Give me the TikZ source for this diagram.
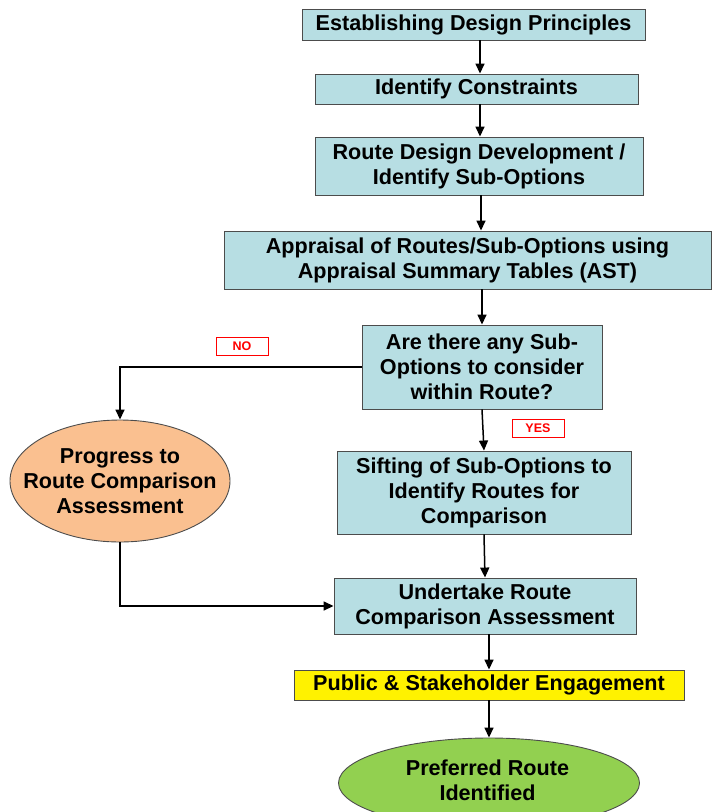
\documentclass[tikz,border=0pt]{standalone}
\usepackage{fontspec}
\setmainfont{Liberation Sans}
\usepackage{tikz}
\usetikzlibrary{shapes.geometric}
\usetikzlibrary{arrows.meta}
\usetikzlibrary{positioning}

\definecolor{boxblue}{RGB}{183,222,227}
\definecolor{peach}{RGB}{250,192,144}
\definecolor{leaf}{RGB}{146,208,80}

\tikzset{
  stage/.style={draw=black!70, line width=0.9pt, fill=boxblue, align=center,
    inner sep=0pt, font=\bfseries\fontsize{21.6}{25}\selectfont},
  goal/.style={ellipse, draw=black!70, line width=0.9pt, inner sep=0pt},
  goaltext/.style={align=center, inner sep=0pt, font=\bfseries\fontsize{21.6}{25}\selectfont},
  flow/.style={-{Triangle[length=10pt,width=9pt]}, line width=1.5pt},
  answer/.style={draw=red, line width=0.8pt, text=red, inner sep=0pt,
    minimum width=52pt, minimum height=18pt, font=\bfseries\fontsize{12.5}{14}\selectfont}
}

\begin{document}
\begin{tikzpicture}[x=1pt, y=-1pt]
		\useasboundingbox (0,0) rectangle (728,812);

		\node[stage, minimum width=343pt, minimum height=31pt] (principles) at (473.5,24.5) {Establishing Design Principles};
		\node[stage, minimum width=323pt, minimum height=30pt] (constraints) at (476.5,89) {Identify Constraints};
		\node[stage, minimum width=328pt, minimum height=58pt] (design) at (479,166) {Route Design Development /\\Identify Sub-Options};
		\node[stage, minimum width=487pt, minimum height=58pt] (appraisal) at (467.5,260) {Appraisal of Routes/Sub-Options using\\Appraisal Summary Tables (AST)};
		\node[stage, minimum width=240pt, minimum height=84pt] (decision) at (482,367) {Are there any Sub-\\Options to consider\\within Route?};
		\node[stage, minimum width=294pt, minimum height=83pt] (sifting) at (484,492.5) {Sifting of Sub-Options to\\Identify Routes for\\Comparison};
		\node[stage, minimum width=302pt, minimum height=56pt] (comparison) at (485,606) {Undertake Route\\Comparison Assessment};
		\node[stage, fill=yellow, minimum width=390pt, minimum height=30pt] (engagement) at (489,685) {Public \& Stakeholder Engagement};

		\node[goal, fill=peach, minimum width=220pt, minimum height=122pt] (progress) at (120,481) {};
		\node[goaltext] (progresstext) at (progress) {Progress to\\Route Comparison\\Assessment};
		\node[goal, fill=leaf, minimum width=301pt, minimum height=90pt] (preferred) at (489,783) {};
		\node[goaltext] (preferredtext) at (487.5,780) {Preferred Route\\Identified};

		\node[answer] (no) at (242,346) {NO};
		\node[answer] (yes) at (538,428) {YES};

		\draw[flow] ([xshift=6.5pt]principles.south) -- ([xshift=6.5pt]principles.south |- constraints.north);
		\draw[flow] ([xshift=3.5pt]constraints.south) -- ([xshift=3.5pt]constraints.south |- design.north);
		\draw[flow] ([xshift=2pt]design.south) -- ([xshift=2pt]design.south |- appraisal.north);
		\draw[flow] (appraisal.south -| decision.north) -- (decision.north);
		\draw[flow] (decision.south) -- (sifting.north);
		\draw[flow] (sifting.south) -- (comparison.north);
		\draw[flow] (comparison.south -| engagement.north) -- (engagement.north);
		\draw[flow] (engagement.south) -- (preferred.north);

		\draw[flow] (decision.west) -| (progress.north);
		\draw[flow] (progress.south) |- (comparison.west);
\end{tikzpicture}
\end{document}
